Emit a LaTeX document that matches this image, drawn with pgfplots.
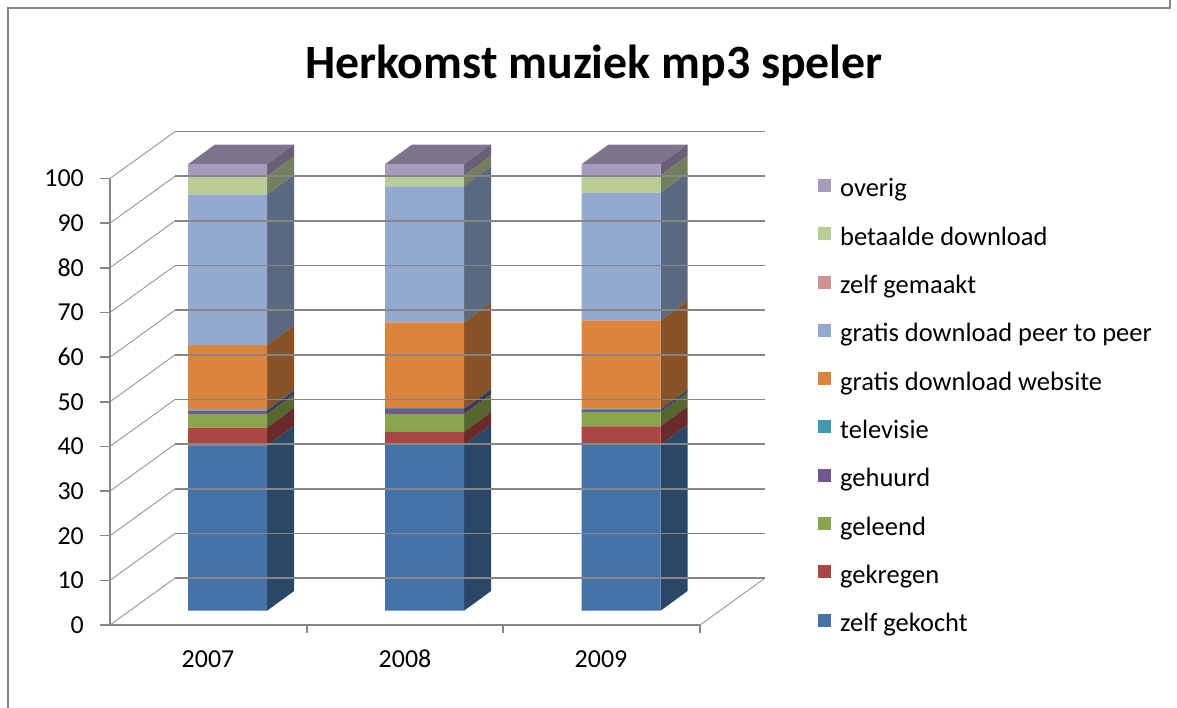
\documentclass[border=0pt]{standalone}
\usepackage{pgfplots}
\pgfplotsset{compat=1.18}
\usepackage{pgfplotstable}
\usepackage{fontspec}
\setmainfont{Carlito}

\definecolor{cZG}{HTML}{4572A7}
\definecolor{cGK}{HTML}{AA4643}
\definecolor{cGL}{HTML}{89A54E}
\definecolor{cGH}{HTML}{71588F}
\definecolor{cTV}{HTML}{4198AF}
\definecolor{cWB}{HTML}{DB843D}
\definecolor{cPP}{HTML}{93A9CF}
\definecolor{cZM}{HTML}{D19392}
\definecolor{cBD}{HTML}{B9CD96}
\definecolor{cOV}{HTML}{A99BBD}
\definecolor{gridgray}{HTML}{868686}
\definecolor{diaggray}{HTML}{959595}

\pgfplotstableread{
x     zg   gk   gl   gh   tv   wb    pp    zm bd   ov
227.5 37.0 4.0  3.0  0.8  0.3  14.4  33.7  0  4.1  2.7
424.5 37.2 2.85 4.0  1.1  0.2  19.2  30.5  0  2.4  2.55
621   37.2 4.1  3.15 0.45 0.35 19.75 28.65 0  3.85 2.5
}\data

% side face: colour, x of right front edge, bottom, height
\newcommand\sideface[4]{\fill[#1] (axis cs:#2,#3) -- ++(axis direction cs:27,4.4) -- ++(axis direction cs:0,#4) -- ++(axis direction cs:-27,-4.4) -- cycle;}
\newcommand\topface[1]{\fill[cOV!75!black] (axis cs:#1,100) -- ++(axis direction cs:27,4.4) -- ++(axis direction cs:79,0) -- ++(axis direction cs:-27,-4.4) -- cycle;}
\newcommand\gridrow[2]{\draw[diaggray, line width=0.9bp] (axis cs:110,#1) -- (axis cs:175,#2);
  \draw[gridgray, line width=1.6bp] (axis cs:175,#2) -- (axis cs:765,#2);}

\begin{document}
\begin{tikzpicture}
\path[use as bounding box] (0,0) rectangle (1177bp,708bp);
\draw[gridgray, line width=2bp] (8bp,0) -- (8bp,700bp) -- (1170bp,700bp) -- (1170bp,708bp);
\node[anchor=base, font=\fontsize{48}{56}\selectfont\bfseries] at (594bp,629.5bp) {Herkomst muziek mp3 speler};
\begin{axis}[
  at={(110bp,83bp)}, anchor=south west,
  x=1bp, y=4.465bp,
  xmin=110, xmax=700, ymin=-3.2, ymax=96.8,
  clip=false,
  axis x line*=bottom, axis y line*=left,
  axis line style={gridgray, line width=1.6bp, -},
  ybar stacked, bar width=79,
  ytick={-3.2,6.8,16.8,26.8,36.8,46.8,56.8,66.8,76.8,86.8,96.8},
  yticklabels={0,10,20,30,40,50,60,70,80,90,100},
  xtick={208,405,601},
  xticklabels={2007,2008,2009},
  minor xtick={307,503,700},
  tick align=outside,
  major tick length=10bp, minor tick length=8bp,
  tick style={gridgray, line width=1.6bp},
  major x tick style={draw=none},
  ticklabel style={font=\fontsize{26}{31}\selectfont, inner sep=0pt},
  yticklabel style={xshift=-16bp},
  xticklabel style={text height=18bp, yshift=-14bp},
  legend style={at={(1.2,0.9995)}, anchor=north west, draw=none, fill=none,
    font=\fontsize{26.6}{31}\selectfont, row sep=24.3bp, inner sep=0pt,
    nodes={inner sep=0pt, text height=18bp, text depth=6bp},
    /tikz/every odd column/.append style={column sep=9bp}},
  legend cell align=left,
  reverse legend,
  legend image code/.code={\fill[#1] (0bp,-1bp) rectangle (13bp,12bp);},
]
% back wall grid
\gridrow{-3.2}{7.3}
\gridrow{6.8}{17.3}
\gridrow{16.8}{27.3}
\gridrow{26.8}{37.3}
\gridrow{36.8}{47.3}
\gridrow{46.8}{57.3}
\gridrow{56.8}{67.3}
\gridrow{66.8}{77.3}
\gridrow{76.8}{87.3}
\gridrow{86.8}{97.3}
\gridrow{96.8}{107.3}
\draw[diaggray, line width=0.9bp] (axis cs:700,-3.2) -- (axis cs:765,7.3);

\addplot[fill=cZG, draw=none] table[x=x,y=zg]{\data}; \addlegendentry{zelf gekocht}
\addplot[fill=cGK, draw=none] table[x=x,y=gk]{\data}; \addlegendentry{gekregen}
\addplot[fill=cGL, draw=none] table[x=x,y=gl]{\data}; \addlegendentry{geleend}
\addplot[fill=cGH, draw=none] table[x=x,y=gh]{\data}; \addlegendentry{gehuurd}
\addplot[fill=cTV, draw=none] table[x=x,y=tv]{\data}; \addlegendentry{televisie}
\addplot[fill=cWB, draw=none] table[x=x,y=wb]{\data}; \addlegendentry{gratis download website}
\addplot[fill=cPP, draw=none] table[x=x,y=pp]{\data}; \addlegendentry{gratis download peer to peer}
\addplot[fill=cZM, draw=none] table[x=x,y=zm]{\data}; \addlegendentry{zelf gemaakt}
\addplot[fill=cBD, draw=none] table[x=x,y=bd]{\data}; \addlegendentry{betaalde download}
\addplot[fill=cOV, draw=none] table[x=x,y=ov]{\data}; \addlegendentry{overig}

% 3-D side faces (2007)
\sideface{cZG!62!black}{267}{0}{37.0}
\sideface{cGK!62!black}{267}{37.0}{4.0}
\sideface{cGL!62!black}{267}{41.0}{3.0}
\sideface{cGH!62!black}{267}{44.0}{0.8}
\sideface{cTV!62!black}{267}{44.8}{0.3}
\sideface{cWB!62!black}{267}{45.1}{14.4}
\sideface{cPP!62!black}{267}{59.5}{33.7}
\sideface{cBD!62!black}{267}{93.2}{4.1}
\sideface{cOV!62!black}{267}{97.3}{2.7}
\topface{188}
% 2008
\sideface{cZG!62!black}{464}{0}{37.2}
\sideface{cGK!62!black}{464}{37.2}{2.85}
\sideface{cGL!62!black}{464}{40.05}{4.0}
\sideface{cGH!62!black}{464}{44.05}{1.1}
\sideface{cTV!62!black}{464}{45.15}{0.2}
\sideface{cWB!62!black}{464}{45.35}{19.2}
\sideface{cPP!62!black}{464}{64.55}{30.5}
\sideface{cBD!62!black}{464}{95.05}{2.4}
\sideface{cOV!62!black}{464}{97.45}{2.55}
\topface{385}
% 2009
\sideface{cZG!62!black}{660.5}{0}{37.2}
\sideface{cGK!62!black}{660.5}{37.2}{4.1}
\sideface{cGL!62!black}{660.5}{41.3}{3.15}
\sideface{cGH!62!black}{660.5}{44.45}{0.45}
\sideface{cTV!62!black}{660.5}{44.9}{0.35}
\sideface{cWB!62!black}{660.5}{45.25}{19.75}
\sideface{cPP!62!black}{660.5}{65.0}{28.65}
\sideface{cBD!62!black}{660.5}{93.65}{3.85}
\sideface{cOV!62!black}{660.5}{97.5}{2.5}
\topface{581.5}
\end{axis}
\end{tikzpicture}
\end{document}
